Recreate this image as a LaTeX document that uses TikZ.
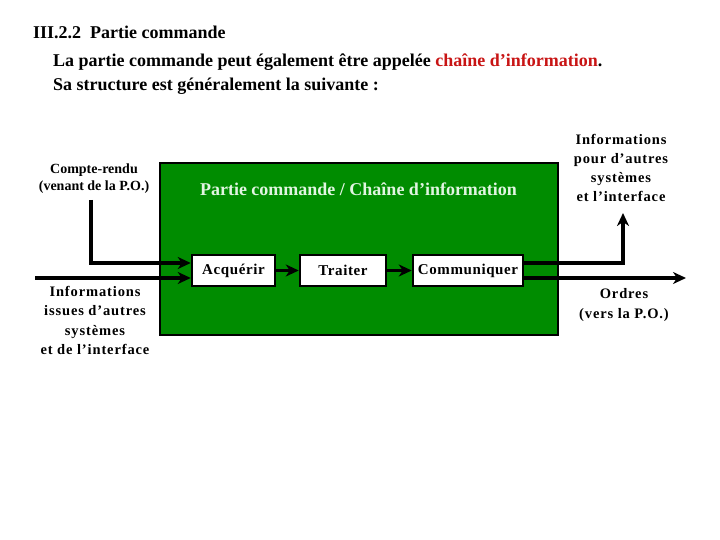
\documentclass[tikz,border=0pt]{standalone}
\usepackage{fontspec}
\setmainfont{Liberation Serif}
\newfontfamily\spc[LetterSpace=6]{Liberation Serif}
\newfontfamily\spcb[LetterSpace=4]{Liberation Serif}
\usetikzlibrary{arrows.meta}
\definecolor{gfill}{RGB}{0,140,0}
\definecolor{gtext}{RGB}{225,245,225}
\definecolor{redt}{RGB}{200,20,20}
\tikzset{
  arr/.style={line width=3.5pt,-{Stealth[length=13pt,width=12pt,inset=4pt]}},
  fbox/.style={draw=black,line width=2.5pt,fill=white,minimum height=31pt,inner sep=0pt,font=\spcb\bfseries\fontsize{15}{16}\selectfont},
  lab/.style={align=center,inner sep=0pt,font=\spc\bfseries\fontsize{14.5}{19.3}\selectfont},
  head/.style={anchor=base west,inner sep=0pt,font=\bfseries\fontsize{18}{20}\selectfont}
}
\begin{document}
\begin{tikzpicture}[x=1pt,y=-1pt]
\useasboundingbox (0,0) rectangle (720,540);
\node[head] (t1) at (33,39) {III.2.2\ \ Partie commande};
\node[head] (t2) at (53,67) {La partie commande peut également être appelée \textcolor{redt}{chaîne d’information}.};
\node[head] (t3) at (53,91) {Sa structure est généralement la suivante :};
\node[draw=black,line width=2pt,fill=gfill,minimum width=398pt,minimum height=172pt,inner sep=0pt] (pc) at (359,249) {};
\node[inner sep=0pt,text=gtext,font=\bfseries\fontsize{18}{20}\selectfont] (pct) at (358.5,189) {Partie commande / Chaîne d’information};
\node[fbox,minimum width=83pt] (acq) at (233.5,270.5) {Acquérir};
\node[fbox,minimum width=86pt] (tra) at (343,270.5) {Traiter};
\node[fbox,minimum width=110pt] (com) at (468,270.5) {Communiquer};
\node[align=center,inner sep=0pt,font=\bfseries\fontsize{14}{17}\selectfont] (cr) at (94,179) {Compte-rendu\\(venant de la P.O.)};
\node[lab] (iin) at (95,320.5) {Informations\\issues d’autres\\systèmes\\et de l’interface};
\node[lab] (iout) at (621,168) {Informations\\pour d’autres\\systèmes\\et l’interface};
\node[lab] (ord) at (624,305) {Ordres\\(vers la P.O.)};
\coordinate (crs) at (91,200);
\coordinate (inl) at (35,278);
\coordinate (outtop) at (623,213);
\coordinate (ordr) at (686,278);
\draw[arr] (crs) |- ([yshift=7.5pt]acq.west);
\draw[arr] (inl) -- ([yshift=-7.5pt]acq.west);
\draw[arr] (acq) -- (tra);
\draw[arr] (tra) -- (com);
\draw[arr] ([yshift=7.5pt]com.east) -| (outtop);
\draw[arr] ([yshift=-7.5pt]com.east) -- (ordr);
\end{tikzpicture}
\end{document}
